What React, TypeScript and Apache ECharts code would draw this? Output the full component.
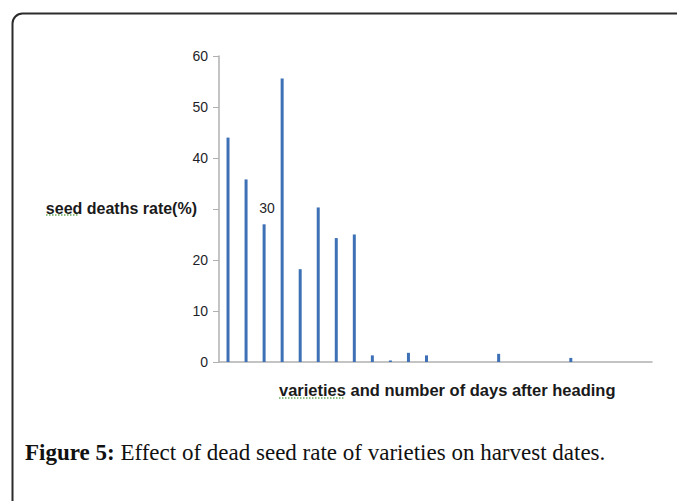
import React, { useEffect, useRef } from "react";
import * as echarts from "echarts";

const categories: string[] = [
  "1", "2", "3", "4", "5", "6", "7", "8", "9", "10", "11", "12",
  "13", "14", "15", "16", "17", "18", "19", "20", "21", "22", "23", "24",
];
const deathRate: number[] = [
  44, 35.8, 27, 55.6, 18.2, 30.3, 24.3, 25, 1.3, 0.3, 1.8, 1.3,
  0, 0, 0, 1.6, 0, 0, 0, 0.8, 0, 0, 0, 0,
];
const yTicks = { min: 0, max: 60, interval: 10 };
const hiddenTick = 30;
const yName = "seed deaths rate(%)";
const xName = "varieties and number of days after heading";
const strayLabel = "30";
const captionBold = "Figure 5:";
const captionText = " Effect of dead seed rate of varieties on harvest dates.";

export default function App() {
  const ref = useRef<HTMLDivElement>(null);
  useEffect(() => {
    if (!ref.current) return;
    const chart = echarts.init(ref.current, undefined, { renderer: "svg" });
    chart.setOption({
      animation: false,
      backgroundColor: "#ffffff",
      grid: { left: 219, right: 25, top: 56, bottom: 139, containLabel: false },
      xAxis: {
        type: "category",
        data: categories,
        axisLine: { show: true, lineStyle: { color: "#b0b0b0", width: 1.5 } },
        axisTick: { show: false },
        axisLabel: { show: false },
        splitLine: { show: false },
      },
      yAxis: {
        type: "value",
        min: yTicks.min,
        max: yTicks.max,
        interval: yTicks.interval,
        axisLine: { show: true, lineStyle: { color: "#b0b0b0", width: 1.5 } },
        axisTick: { show: true, length: 6, lineStyle: { color: "#b0b0b0" } },
        axisLabel: {
          margin: 11,
          fontFamily: "Liberation Sans, Arial, sans-serif",
          fontSize: 14,
          color: "#1f1f2a",
          formatter: (v: number) => (v === hiddenTick ? "" : String(v)),
        },
        splitLine: { show: false },
      },
      series: [
        {
          type: "bar",
          data: deathRate,
          barWidth: 3,
          itemStyle: { color: "#3d70b5" },
        },
      ],
      graphic: [
        {
          type: "rect",
          shape: { x: 12.5, y: 13.5, width: 720, height: 620, r: 10 },
          style: { fill: "none", stroke: "#2b2b2b", lineWidth: 2 },
          silent: true,
        },
        {
          type: "text",
          x: 197,
          y: 208,
          style: {
            text: yName,
            fontFamily: "Liberation Sans, Arial, sans-serif",
            fontWeight: "bold",
            fontSize: 16,
            fill: "#1a1a1a",
            align: "right",
            verticalAlign: "middle",
          },
        },
        {
          type: "text",
          x: 267,
          y: 208,
          style: {
            text: strayLabel,
            fontFamily: "Liberation Sans, Arial, sans-serif",
            fontSize: 14,
            fill: "#1f1f2a",
            align: "center",
            verticalAlign: "middle",
          },
        },
        {
          type: "text",
          x: 279,
          y: 390,
          style: {
            text: xName,
            fontFamily: "Liberation Sans, Arial, sans-serif",
            fontWeight: "bold",
            fontSize: 16.5,
            fill: "#1a1a1a",
            align: "left",
            verticalAlign: "middle",
          },
        },
        {
          type: "line",
          shape: { x1: 46, y1: 215, x2: 78, y2: 215 },
          style: { stroke: "#6aaa5a", lineWidth: 1.5, lineDash: [1.5, 1.5] },
        },
        {
          type: "line",
          shape: { x1: 279, y1: 398, x2: 345, y2: 398 },
          style: { stroke: "#6aaa5a", lineWidth: 1.5, lineDash: [1.5, 1.5] },
        },
        {
          type: "text",
          x: 25,
          y: 452,
          style: {
            text: "{b|" + captionBold + "}{n|" + captionText + "}",
            verticalAlign: "middle",
            align: "left",
            rich: {
              b: {
                fontFamily: "Liberation Serif, Times New Roman, serif",
                fontWeight: "bold",
                fontSize: 23,
                fill: "#111111",
              },
              n: {
                fontFamily: "Liberation Serif, Times New Roman, serif",
                fontSize: 23,
                fill: "#111111",
              },
            },
          },
        },
      ],
    });
    return () => chart.dispose();
  }, []);
  return (
    <div
      ref={ref}
      style={{ position: "absolute", left: 0, top: 0, width: 677, height: 501, background: "#fff" }}
    />
  );
}
